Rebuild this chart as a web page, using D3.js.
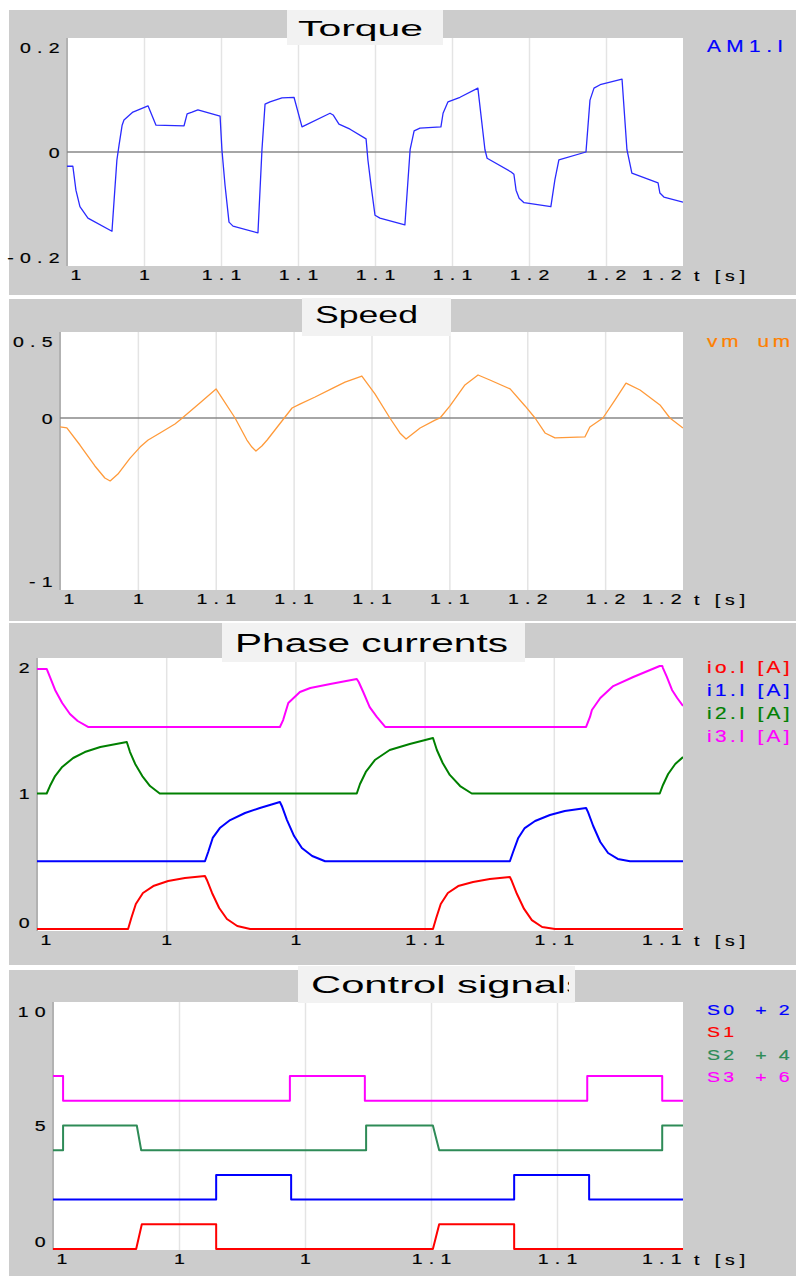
<!DOCTYPE html>
<html><head><meta charset="utf-8">
<script src="https://cdn.jsdelivr.net/npm/d3@7"></script>
<style>body{margin:0;background:#fff;}svg{display:block;}</style>
</head><body><svg id="c" width="796" height="1276"></svg>
<script>
// ---------------- DATA ----------------
const torqueXTicks = [1.0,1.025,1.05,1.075,1.1,1.125,1.15,1.175,1.2];
const torqueXLabels = ["1","1","1.1","1.1","1.1","1.1","1.2","1.2","1.2"];
const torqueYTicks = [0.2,0,-0.2];
const torqueYLabels = ["0.2","0","-0.2"];
const torqueAM1 = [[1.0000,-0.025],[1.0019,-0.025],[1.0029,-0.067],[1.0042,-0.096],[1.0068,-0.116],[1.0146,-0.139],
 [1.0153,-0.084],[1.0162,-0.014],[1.0169,0.012],[1.0179,0.047],[1.0185,0.056],[1.0214,0.070],[1.0263,0.081],
 [1.0289,0.047],[1.0380,0.046],[1.0390,0.067],[1.0406,0.070],[1.0425,0.074],[1.0497,0.063],[1.0503,0.004],
 [1.0513,-0.058],[1.0526,-0.123],[1.0539,-0.130],[1.0620,-0.142],[1.0633,0.004],[1.0643,0.084],[1.0659,0.088],
 [1.0698,0.095],[1.0737,0.096],[1.0763,0.044],[1.0854,0.068],[1.0864,0.065],[1.0883,0.049],[1.0919,0.040],
 [1.0971,0.023],[1.0977,-0.014],[1.0987,-0.058],[1.1000,-0.111],[1.1016,-0.116],[1.1097,-0.128],[1.1114,0.004],
 [1.1127,0.037],[1.1146,0.042],[1.1214,0.044],[1.1221,0.068],[1.1237,0.088],[1.1276,0.096],[1.1334,0.112],
 [1.1357,0.004],[1.1364,-0.011],[1.1442,-0.035],[1.1451,-0.039],[1.1458,-0.067],[1.1468,-0.081],[1.1484,-0.089],
 [1.1571,-0.096],[1.1584,-0.049],[1.1597,-0.014],[1.1685,0.000],[1.1688,0.021],[1.1698,0.091],[1.1711,0.112],
 [1.1731,0.118],[1.1802,0.128],[1.1818,0.004],[1.1825,-0.014],[1.1834,-0.037],[1.1919,-0.054],[1.1925,-0.072],
 [1.1938,-0.079],[1.2000,-0.088]];

const speedYTicks = [0.5,0,-1];
const speedYLabels = ["0.5","0","-1"];
const speedVm = [[1.0000,-0.052],[1.0022,-0.058],[1.0064,-0.157],[1.0112,-0.279],[1.0144,-0.349],[1.0161,-0.366],
 [1.0186,-0.326],[1.0225,-0.233],[1.0257,-0.169],[1.0283,-0.128],[1.0321,-0.087],[1.0369,-0.035],[1.0385,-0.012],
 [1.0449,0.087],[1.0501,0.169],[1.0562,0.000],[1.0600,-0.128],[1.0616,-0.169],[1.0629,-0.192],[1.0648,-0.163],
 [1.0665,-0.128],[1.0745,0.058],[1.0770,0.081],[1.0819,0.122],[1.0876,0.174],[1.0915,0.209],[1.0969,0.244],
 [1.1011,0.140],[1.1059,0.000],[1.1091,-0.087],[1.1111,-0.122],[1.1156,-0.058],[1.1204,-0.012],[1.1220,0.000],
 [1.1252,0.070],[1.1300,0.192],[1.1342,0.250],[1.1380,0.221],[1.1445,0.169],[1.1493,0.070],[1.1525,0.000],
 [1.1557,-0.087],[1.1589,-0.116],[1.1685,-0.110],[1.1701,-0.052],[1.1743,0.000],[1.1782,0.105],[1.1817,0.203],
 [1.1862,0.163],[1.1926,0.076],[1.1958,0.000],[1.2000,-0.058]];

const phaseXTicks = [1.0,1.02,1.04,1.06,1.08,1.1];
const phaseXLabels = ["1","1","1","1.1","1.1","1.1"];
const phaseYTicks = [2,1,0];
const phaseYLabels = ["2","1","0"];
const currentI0 = [[1.0000,0],[1.0141,0],[1.0146,0.081],[1.0153,0.185],[1.0164,0.266],[1.0180,0.317],[1.0203,0.354],
 [1.0229,0.376],[1.0260,0.391],[1.0263,0.362],[1.0271,0.266],[1.0282,0.155],[1.0294,0.074],[1.0310,0.022],[1.0330,0],
 [1.0613,0],[1.0618,0.081],[1.0625,0.185],[1.0636,0.266],[1.0652,0.317],[1.0675,0.347],[1.0701,0.369],[1.0732,0.384],
 [1.0735,0.354],[1.0743,0.258],[1.0754,0.148],[1.0766,0.066],[1.0782,0.015],[1.0802,0],[1.1000,0]];
const currentI1 = [[1.0000,0.5],[1.0260,0.5],[1.0265,0.568],[1.0272,0.672],[1.0283,0.745],[1.0299,0.804],[1.0322,0.856],
 [1.0345,0.893],[1.0376,0.937],[1.0379,0.908],[1.0387,0.804],[1.0398,0.686],[1.0410,0.598],[1.0426,0.539],[1.0446,0.5],
 [1.0732,0.5],[1.0737,0.568],[1.0745,0.672],[1.0755,0.745],[1.0771,0.797],[1.0794,0.841],[1.0817,0.871],[1.0850,0.893],
 [1.0853,0.863],[1.0861,0.760],[1.0872,0.642],[1.0884,0.561],[1.0899,0.517],[1.0918,0.5],[1.1000,0.5]];
const currentI2 = [[1.0000,1.0],[1.0015,1.0],[1.0020,1.055],[1.0028,1.129],[1.0039,1.196],[1.0056,1.262],[1.0074,1.306],
 [1.0098,1.343],[1.0139,1.380],[1.0144,1.306],[1.0152,1.218],[1.0163,1.129],[1.0175,1.055],[1.0190,1.0],
 [1.0495,1.0],[1.0500,1.070],[1.0509,1.159],[1.0523,1.247],[1.0546,1.321],[1.0577,1.365],[1.0613,1.410],
 [1.0619,1.321],[1.0628,1.225],[1.0639,1.137],[1.0655,1.055],[1.0673,1.0],[1.0964,1.0],[1.0969,1.063],
 [1.0977,1.144],[1.0988,1.218],[1.1000,1.269]];
const currentI3 = [[1.0000,1.919],[1.0015,1.919],[1.0020,1.860],[1.0028,1.764],[1.0039,1.668],[1.0051,1.587],
 [1.0063,1.535],[1.0079,1.491],[1.0376,1.491],[1.0381,1.542],[1.0389,1.668],[1.0407,1.749],[1.0423,1.779],
 [1.0454,1.808],[1.0495,1.845],[1.0498,1.823],[1.0505,1.749],[1.0515,1.638],[1.0526,1.565],[1.0539,1.491],
 [1.0850,1.491],[1.0856,1.565],[1.0859,1.616],[1.0872,1.705],[1.0892,1.793],[1.0923,1.860],[1.0964,1.941],
 [1.0968,1.941],[1.0969,1.926],[1.0975,1.860],[1.0983,1.764],[1.0991,1.705],[1.1000,1.646]];

const controlYTicks = [10,5,0];
const controlYLabels = ["10","5","0"];
const signalS0 = [[1.0,2],[1.0259,2],[1.0259,3],[1.0378,3],[1.0378,2],[1.0732,2],[1.0732,3],[1.0851,3],[1.0851,2],[1.1,2]];
const signalS1 = [[1.0,0],[1.0132,0],[1.0141,1],[1.0259,1],[1.0259,0],[1.0603,0],[1.0613,1],[1.0732,1],[1.0732,0],[1.1,0]];
const signalS2 = [[1.0,4],[1.0016,4],[1.0016,5],[1.0133,5],[1.0140,4],[1.0497,4],[1.0497,5],[1.0603,5],[1.0613,4],[1.0967,4],[1.0967,5],[1.1,5]];
const signalS3 = [[1.0,7],[1.0016,7],[1.0016,6],[1.0376,6],[1.0376,7],[1.0495,7],[1.0495,6],[1.0848,6],[1.0848,7],[1.0967,7],[1.0967,6],[1.1,6]];

// ---------------- DRAW ----------------
const FONT = "'Liberation Sans', Arial, Helvetica, sans-serif";
const SX = 1.3, LS = 4.8, FS = 15;
const svg = d3.select("#c");

function txt(parent, x, y, s, o) {
  return parent.append("text")
    .attr("transform", `translate(${x},${y}) scale(${o.sx ?? SX},1)`)
    .attr("font-family", FONT).attr("font-size", o.size)
    .style("letter-spacing", (o.ls ?? 0) + "px")
    .style("word-spacing", (o.ws ?? 0) + "px")
    .style("white-space", "pre")
    .attr("fill", o.color || "#000")
    .attr("stroke", o.color || "#000").attr("stroke-width", 0.2)
    .attr("text-anchor", o.anchor || "start")
    .text(s);
}

function drawPanel(c) {
  const [L, T, R, B] = c.plot;
  const g = svg.append("g");
  g.append("rect").attr("x", c.box[0]).attr("y", c.box[1]).attr("width", c.box[2]-c.box[0]).attr("height", c.box[3]-c.box[1]).attr("fill", "#cccccc");
  g.append("rect").attr("x", L).attr("y", T).attr("width", R-L).attr("height", B-T).attr("fill", "#fff");
  const x = d3.scaleLinear().domain(c.xDomain).range([L, R]);
  const y = d3.scaleLinear().domain(c.yDomain).range(c.yRange || [B, T]);

  const grid = g.append("g").attr("transform", `translate(0,${B})`)
    .call(d3.axisBottom(x).tickValues(c.xTicks.slice(1, -1)).tickSize(-(B-T)).tickFormat(""));
  grid.select(".domain").remove();
  grid.selectAll("line").attr("stroke", "#e4e4e4").attr("stroke-width", 1.5);
  g.append("line").attr("x1", L).attr("x2", L).attr("y1", T).attr("y2", B).attr("stroke", "#b2b2b2").attr("stroke-width", 2);
  if (c.zero) g.append("line").attr("x1", L).attr("x2", R).attr("y1", y(0)).attr("y2", y(0)).attr("stroke", "#888").attr("stroke-width", 1.5);

  const id = "clip" + c.id;
  g.append("clipPath").attr("id", id).append("rect").attr("x", L).attr("y", T).attr("width", R-L).attr("height", B-T+1);
  const line = d3.line().x(d => x(d[0])).y(d => y(d[1]));
  const lg = g.append("g").attr("clip-path", `url(#${id})`);
  c.series.forEach(s => lg.append("path").attr("d", line(s.data)).attr("fill", "none")
    .attr("stroke", s.color).attr("stroke-width", c.lw).attr("stroke-linejoin", "round"));

  // title
  const tb = c.tbox;
  g.append("rect").attr("x", tb[0]).attr("y", tb[1]).attr("width", tb[2]-tb[0]).attr("height", tb[3]-tb[1]).attr("fill", "#f2f2f2");
  const tid = "tclip" + c.id;
  g.append("clipPath").attr("id", tid).append("rect").attr("x", tb[0]).attr("y", tb[1]).attr("width", (c.tclipR || tb[2]) - tb[0]).attr("height", tb[3]-tb[1]);
  g.append("text").attr("clip-path", `url(#${tid})`)
    .attr("x", c.tx).attr("y", c.tbase).attr("font-family", FONT).attr("font-size", c.tsize)
    .attr("textLength", c.tlen).attr("lengthAdjust", "spacingAndGlyphs").attr("fill", "#000").text(c.title);

  // x axis labels
  const xa = g.append("g").attr("transform", `translate(0,${B})`)
    .call(d3.axisBottom(x).tickValues(c.xTicks).tickFormat((d, i) => c.xLabels[i]).tickSize(0));
  xa.select(".domain").remove();
  xa.attr("font-family", FONT).attr("font-size", FS);
  const n = c.xTicks.length;
  xa.selectAll("text").each(function (d, i) {
    const t = d3.select(this).attr("dy", null).attr("y", 14.5).attr("fill", "#000")
      .attr("stroke", "#000").attr("stroke-width", 0.2)
      .style("letter-spacing", LS + "px").attr("transform", `scale(${SX},1)`);
    if (i === 0) t.attr("text-anchor", "start").attr("x", 3 / SX);
    else if (i === n - 1) t.attr("text-anchor", "end").attr("x", (LS * SX - 2) / SX);
    else t.attr("text-anchor", "middle").attr("x", LS / 2);
  });
  txt(g, 694, B + 14.5, "t [s]", {size: FS, ls: 3.8});

  // y axis labels
  const ya = g.append("g").attr("transform", `translate(${L},0)`)
    .call(d3.axisLeft(y).tickValues(c.yTicks).tickFormat((d, i) => c.yLabels[i]).tickSize(0));
  ya.select(".domain").remove();
  ya.attr("font-family", FONT).attr("font-size", FS);
  ya.selectAll(".tick").each(function (d) {
    const yy = y(d);
    const cy = Math.max(T + 9, Math.min(B - 9, yy));
    d3.select(this).select("text").attr("x", -1.2 / SX).attr("y", cy - yy).attr("dy", "0.36em")
      .attr("text-anchor", "end").attr("fill", "#000").attr("stroke", "#000").attr("stroke-width", 0.2)
      .style("letter-spacing", LS + "px").attr("transform", `scale(${SX},1)`);
  });

  // legend
  c.legend.forEach(l => txt(g, l.x, l.y, l.text, {size: l.size, ls: l.ls, ws: l.ws || 0, color: l.color}));
}

drawPanel({
  id: 1, box: [9, 10, 796, 295], plot: [67, 38, 683, 266],
  xDomain: [1.0, 1.2], yDomain: [-0.2, 0.2], xTicks: torqueXTicks, xLabels: torqueXLabels,
  yTicks: torqueYTicks, yLabels: torqueYLabels, zero: true, lw: 1.3,
  series: [{data: torqueAM1, color: "#2a2aff"}],
  tbox: [287, 10, 443, 45], title: "Torque", tx: 298, tbase: 36, tsize: 22, tlen: 125,
  legend: [{text: "AM1.I", x: 707, y: 52, size: 16, ls: 4.2, color: "#0000ff"}]
});
drawPanel({
  id: 2, box: [9, 299, 796, 621], plot: [60, 332, 683, 590],
  xDomain: [1.0, 1.2], yDomain: [-1, 0.5], xTicks: torqueXTicks, xLabels: torqueXLabels,
  yTicks: speedYTicks, yLabels: speedYLabels, zero: true, lw: 1.3,
  series: [{data: speedVm, color: "#ff9a3a"}],
  tbox: [302, 298, 451, 336], title: "Speed", tx: 315, tbase: 323, tsize: 23, tlen: 103,
  legend: [{text: "vm um", x: 707, y: 347, size: 16, ls: 3, ws: 4, color: "#ff8000"}]
});
drawPanel({
  id: 3, box: [9, 623, 796, 965], plot: [37, 658, 683, 931], yRange: [929, 658],
  xDomain: [1.0, 1.1], yDomain: [0, 2], xTicks: phaseXTicks, xLabels: phaseXLabels,
  yTicks: phaseYTicks, yLabels: phaseYLabels, zero: false, lw: 2,
  series: [{data: currentI3, color: "#ff00ff"}, {data: currentI2, color: "#008000"},
           {data: currentI1, color: "#0000ff"}, {data: currentI0, color: "#ff0000"}],
  tbox: [222, 623, 525, 662], title: "Phase currents", tx: 235, tbase: 652, tsize: 25, tlen: 273,
  legend: [
    {text: "io.I [A]", x: 707, y: 673, size: 16, ls: 2.6, color: "#ff0000"},
    {text: "i1.I [A]", x: 707, y: 696, size: 16, ls: 2.6, color: "#0000ff"},
    {text: "i2.I [A]", x: 707, y: 719, size: 16, ls: 2.6, color: "#008000"},
    {text: "i3.I [A]", x: 707, y: 742, size: 16, ls: 2.6, color: "#ff00ff"}]
});
drawPanel({
  id: 4, box: [9, 970, 796, 1276], plot: [53, 1002, 683, 1250], yRange: [1249, 1002],
  xDomain: [1.0, 1.1], yDomain: [0, 10], xTicks: phaseXTicks, xLabels: phaseXLabels,
  yTicks: controlYTicks, yLabels: controlYLabels, zero: false, lw: 2,
  series: [{data: signalS3, color: "#ff00ff"}, {data: signalS2, color: "#2e8b57"},
           {data: signalS0, color: "#0000ff"}, {data: signalS1, color: "#ff0000"}],
  tbox: [298, 966, 575, 1003], tclipR: 569, title: "Control signals", tx: 311, tbase: 993, tsize: 23, tlen: 276,
  legend: [
    {text: "S0  + 2", x: 707, y: 1015, size: 15, ls: 2.6, color: "#0000ff"},
    {text: "S1", x: 707, y: 1037, size: 15, ls: 2.6, color: "#ff0000"},
    {text: "S2  + 4", x: 707, y: 1060, size: 15, ls: 2.6, color: "#2e8b57"},
    {text: "S3  + 6", x: 707, y: 1082, size: 15, ls: 2.6, color: "#ff00ff"}]
});
</script></body></html>
